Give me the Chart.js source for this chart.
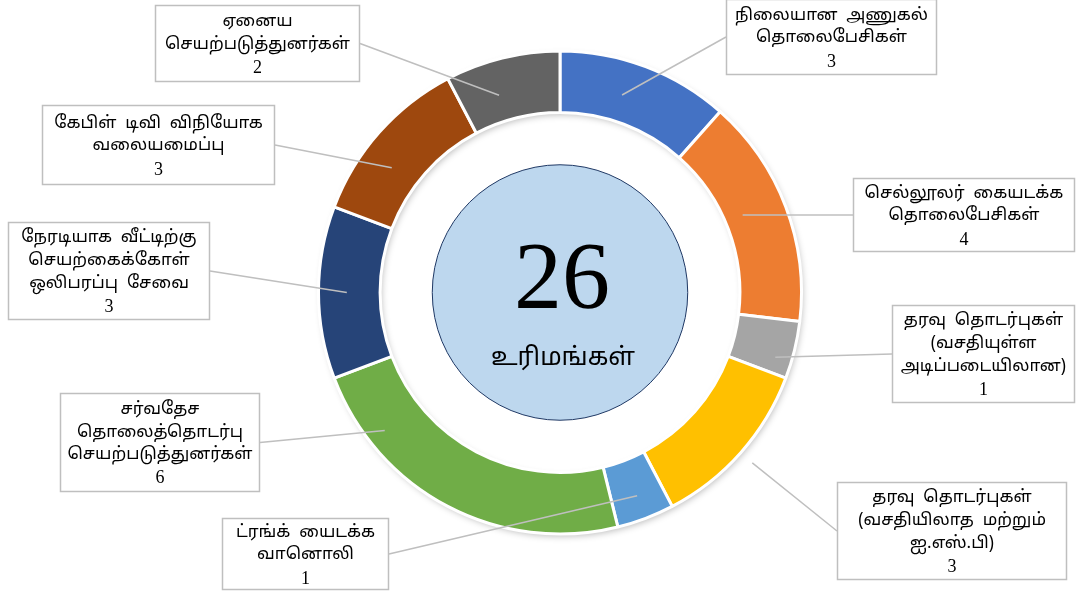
<!DOCTYPE html>
<html>
<head>
<meta charset="utf-8">
<script src="https://cdn.jsdelivr.net/npm/chart.js@4/dist/chart.umd.min.js"></script>
<style>
html,body{margin:0;padding:0;background:#fff;}
#wrap{position:relative;width:1078px;height:599px;}
</style>
</head>
<body>
<div id="wrap"><canvas id="c" width="1078" height="599"></canvas></div>
<script>
// ---- data ----
const categoryLines = [
  ['நிலையான  அணுகல்', 'தொலைபேசிகள்'],
  ['செல்லூலர்  கையடக்க', 'தொலைபேசிகள்'],
  ['தரவு  தொடர்புகள்', '(வசதியுள்ள', 'அடிப்படையிலான)'],
  ['தரவு  தொடர்புகள்', '(வசதியிலாத  மற்றும்', 'ஐ.எஸ்.பி)'],
  ['ட்ரங்க்  யைடக்க', 'வானொலி'],
  ['சர்வதேச', 'தொலைத்தொடர்பு', 'செயற்படுத்துனர்கள்'],
  ['நேரடியாக  வீட்டிற்கு', 'செயற்கைக்கோள்', 'ஒலிபரப்பு  சேவை'],
  ['கேபிள்  டிவி  விநியோக', 'வலையமைப்பு'],
  ['ஏனைய', 'செயற்படுத்துனர்கள்']
];
const licences = [3, 4, 1, 3, 1, 6, 3, 3, 2];
const centerLabel = 'உரிமங்கள்';

// ---- styles / layout ----
const sliceColors = ['#4472C4','#ED7D31','#A5A5A5','#FFC000','#5B9BD5','#70AD47','#264478','#9E480E','#636363'];
// label boxes: [left, top, right, bottom], side the leader line attaches to, anchor (t along slice angle, s across ring)
const labelBoxes = [
  {box:[726,-1,937,75],   side:'left',  t:0.42, s:0.44},
  {box:[853,178,1075,252],side:'left',  t:0.46, s:0.30},
  {box:[892,305,1075,403],side:'left',  t:0.71, s:0.73},
  {box:[837,482,1067,580],side:'left',  t:0.50, s:1.25},
  {box:[222,518,389,590], side:'right', t:0.50, s:0.61},
  {box:[60,393,260,492],  side:'right', t:0.79, s:0.70},
  {box:[8,222,210,320],   side:'right', t:0.50, s:0.54},
  {box:[42,105,275,185],  side:'right', t:0.38, s:0.48},
  {box:[155,5,360,82],    side:'right', t:0.38, s:0.43}
];
const tamilFont = '"Noto Sans Tamil","Latha","Noto Sans","Lohit Tamil",sans-serif';
const serifFont = '"Liberation Serif","Times New Roman",serif';

const ringShadow = {
  id: 'ringShadow',
  beforeDatasetsDraw(chart) {
    const arc = chart.getDatasetMeta(0).data[0];
    if (!arc) return;
    const ctx = chart.ctx;
    ctx.save();
    ctx.shadowColor = 'rgba(0,0,0,0.28)';
    ctx.shadowBlur = 7;
    ctx.shadowOffsetX = 2;
    ctx.shadowOffsetY = 3;
    ctx.beginPath();
    ctx.arc(arc.x, arc.y, arc.outerRadius - 1, 0, Math.PI * 2);
    ctx.arc(arc.x, arc.y, arc.innerRadius + 1, 0, Math.PI * 2, true);
    ctx.fillStyle = '#ffffff';
    ctx.fill();
    ctx.restore();
  }
};

const centerAndLabels = {
  id: 'centerAndLabels',
  afterDatasetsDraw(chart) {
    const meta = chart.getDatasetMeta(0);
    const arcs = meta.data;
    const ctx = chart.ctx;
    const a0 = arcs[0];
    const cx = a0.x, cy = a0.y;
    const total = licences.reduce((a, b) => a + b, 0);

    // center disc
    ctx.save();
    ctx.beginPath();
    ctx.arc(cx, cy, a0.innerRadius * 0.71, 0, Math.PI * 2);
    ctx.fillStyle = '#BDD7EE';
    ctx.fill();
    ctx.lineWidth = 1;
    ctx.strokeStyle = '#1F3864';
    ctx.stroke();
    ctx.fillStyle = '#000';
    ctx.textAlign = 'center';
    ctx.textBaseline = 'middle';
    ctx.font = '96px ' + serifFont;
    ctx.fillText(String(total), cx + 2, cy - 10);
    ctx.font = '25px ' + tamilFont;
    ctx.fillText(centerLabel, cx + 3, cy + 67);
    ctx.restore();

    // leader lines + boxes
    arcs.forEach((arc, i) => {
      const L = labelBoxes[i];
      const [l, t, r, b] = L.box;
      const ang = arc.startAngle + L.t * (arc.endAngle - arc.startAngle);
      const rad = arc.innerRadius + L.s * (arc.outerRadius - arc.innerRadius);
      const sx = cx + Math.cos(ang) * rad;
      const sy = cy + Math.sin(ang) * rad;
      const ex = L.side === 'left' ? l : r;
      const ey = (t + b) / 2;
      ctx.save();
      ctx.beginPath();
      ctx.moveTo(sx, sy);
      ctx.lineTo(ex, ey);
      ctx.strokeStyle = '#BFBFBF';
      ctx.lineWidth = 1.5;
      ctx.stroke();
      ctx.fillStyle = '#fff';
      ctx.fillRect(l, t, r - l, b - t);
      ctx.strokeStyle = '#BFBFBF';
      ctx.lineWidth = 1.5;
      ctx.strokeRect(l + 0.5, t + 0.5, r - l - 1, b - t - 1);
      const lines = categoryLines[i].concat([String(licences[i])]);
      const lh = 22.8;
      const n = lines.length;
      const y0 = t + (b - t - n * lh) / 2 + lh / 2 + 2;
      ctx.fillStyle = '#000';
      ctx.textAlign = 'center';
      ctx.textBaseline = 'middle';
      lines.forEach((txt, k) => {
        const isNum = k === n - 1;
        ctx.font = isNum ? '18px ' + serifFont : '17px ' + tamilFont;
        ctx.fillText(txt, (l + r) / 2, y0 + k * lh);
      });
      ctx.restore();
    });
  }
};

new Chart(document.getElementById('c'), {
  type: 'doughnut',
  data: {
    labels: categoryLines.map(a => a.join(' ')),
    datasets: [{
      data: licences,
      backgroundColor: sliceColors,
      borderColor: '#ffffff',
      borderWidth: 3,
      hoverOffset: 0
    }]
  },
  options: {
    responsive: false,
    animation: false,
    radius: 241.5,
    cutout: '74.5%',
    layout: { padding: { left: 300, right: 258, top: 33, bottom: 47 } },
    plugins: { legend: { display: false }, tooltip: { enabled: false } }
  },
  plugins: [ringShadow, centerAndLabels]
});
</script>
</body>
</html>
